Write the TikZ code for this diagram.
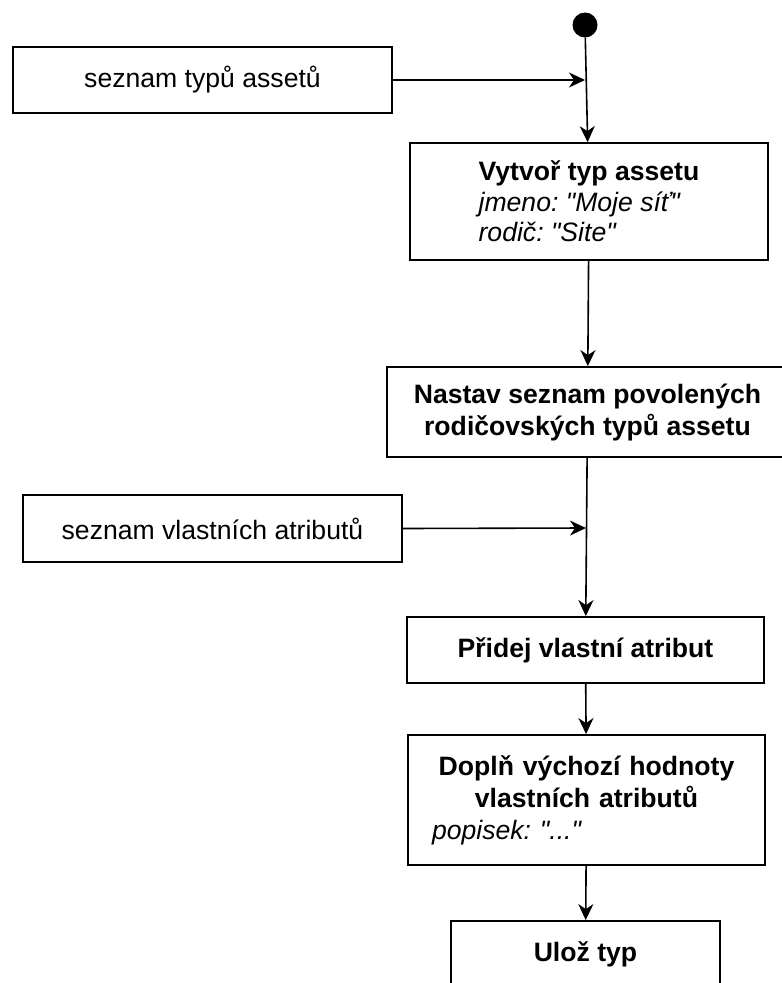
\documentclass[tikz,border=0pt]{standalone}
\usepackage{fontspec}
% plain font family without TeX ligature mapping, so " stays a straight quote
\newfontfamily\diagfont{Liberation Sans}
\usetikzlibrary{arrows.meta}
\frenchspacing
\begin{document}
\begin{tikzpicture}[x=1bp,y=-1bp,
  box/.style={draw=black, line width=1.8bp, fill=white, inner sep=0pt,
    font=\diagfont\fontsize{26.6bp}{32bp}\selectfont},
  flow/.style={draw=black, line width=1.6bp,
    -{Stealth[length=16bp,width=15bp,inset=5bp]}},
  ]
\useasboundingbox (0,0) rectangle (782,983);

% start point
\node[circle, fill=black, minimum size=25bp, inner sep=0pt] (start) at (585,25) {};

% inputs
\node[box, minimum width=379bp, minimum height=66bp] (types) at (202.5,80) {seznam typů assetů};
\node[box, minimum width=379bp, minimum height=67bp] (attrs) at (212.5,528.5) {seznam vlastních atributů};

% steps
\node[box, minimum width=358bp, minimum height=117bp, align=left,
  font=\diagfont\fontsize{26.6bp}{30.5bp}\selectfont] (b1) at (589,201.5)
  {\textbf{Vytvoř typ assetu}\\\textit{jmeno: "Moje síť"}\\\textit{rodič: "Site"}};
\node[box, minimum width=401bp, minimum height=90bp, align=center] (b2) at (587.5,412)
  {\textbf{Nastav seznam povolených}\\\textbf{rodičovských typů assetu}};
\node[box, minimum width=357bp, minimum height=66bp] (b3) at (585.5,650)
  {\textbf{Přidej vlastní atribut}};
\node[box, minimum width=357bp, minimum height=130bp, text width=309bp, align=left] (b4) at (586.5,800)
  {\makebox[309bp]{\textbf{Doplň výchozí hodnoty}}\\\makebox[309bp]{\textbf{vlastních atributů}}\\\textit{popisek: "..."}};
\node[box, minimum width=269bp, minimum height=66bp] (b5) at (585.5,954)
  {\textbf{Ulož typ}};

% merge points of the input arrows
\coordinate (j1) at (585,80);
\coordinate (j2) at (586,528);

% connectors
\draw[flow] (start) -- (b1);
\draw[flow] (types.east) -- (j1);
\draw[flow] (b1) -- (b2);
\draw[flow] (b2) -- (b3);
\draw[flow] (attrs.east) -- (j2);
\draw[flow] (b3) -- (b4);
\draw[flow] (b4) -- (b5);
\end{tikzpicture}
\end{document}
